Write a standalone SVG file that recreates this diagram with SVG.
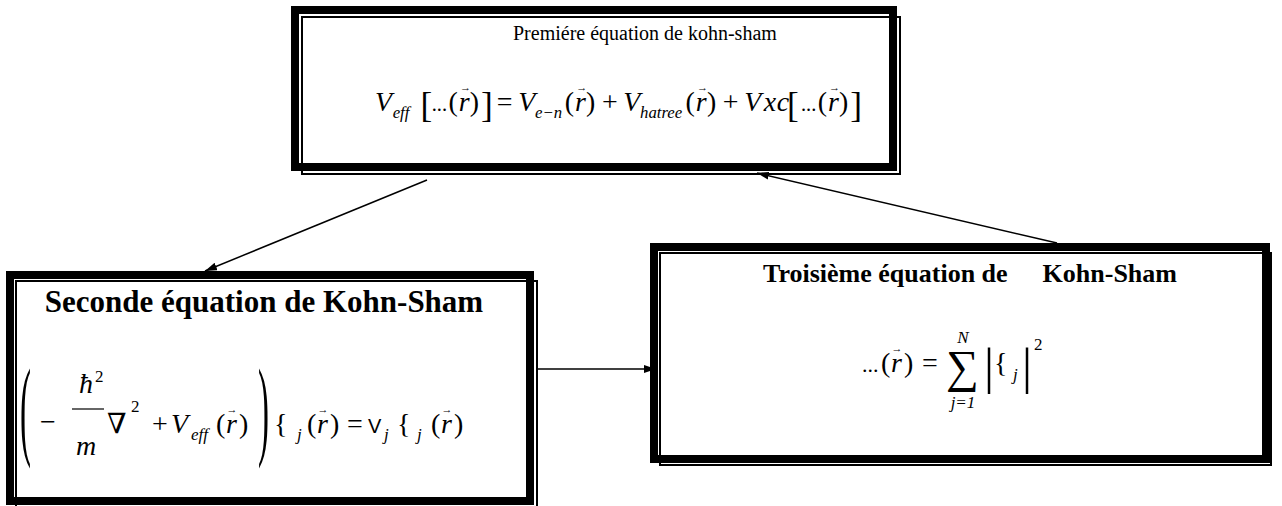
<svg xmlns="http://www.w3.org/2000/svg" width="1282" height="506" viewBox="0 0 1282 506">
<style>
.thick{fill:none;stroke:#000;stroke-width:8}
.thin{fill:none;stroke:#000;stroke-width:2}
.t{font-family:'Liberation Serif','DejaVu Serif',serif;fill:#000}
.i{font-style:italic}
.b{font-weight:bold}
.m{font-size:28px}
.s{font-size:17px}
.v{font-size:11px}
.sans{font-family:'Liberation Sans','DejaVu Sans',sans-serif;fill:#000}
.conn{stroke:#000;stroke-width:1.5;fill:none}
</style>
<defs>
<marker id="ah" viewBox="0 0 12 8" refX="12" refY="4" markerWidth="12" markerHeight="8" markerUnits="userSpaceOnUse" orient="auto">
<path d="M0,0 L12,4 L0,8 Z" fill="#000"/>
</marker>
</defs>
<rect width="1282" height="506" fill="#fff"/>

<g id="connectors">
<line class="conn" x1="427" y1="180" x2="205" y2="271" marker-end="url(#ah)"/>
<line class="conn" x1="1057" y1="243" x2="757" y2="173" marker-end="url(#ah)"/>
<line class="conn" x1="538" y1="369" x2="656" y2="369" marker-end="url(#ah)"/>
</g>

<g id="node-premiere">
<rect class="thick" x="295" y="10" width="598" height="157"/>
<rect class="thin" x="302" y="17" width="598" height="157"/>
<text class="t" x="513" y="40" font-size="20">Premiére équation de kohn-sham</text>
<g transform="translate(375,111) scale(0.93)">
<text class="t i" x="0" y="0" font-size="30">V</text>
<text class="t i" x="19" y="8" font-size="18">eff</text>
<text class="t" x="49" y="6" font-size="38">[</text>
<text class="t" x="61" y="0" font-size="22">...</text>
<text class="t" x="79" y="0" font-size="30">(</text>
<text class="t i" x="90" y="0" font-size="30">r</text>
<text class="t" x="97" y="-21" font-size="12" text-anchor="middle">→</text>
<text class="t" x="102" y="0" font-size="30">)</text>
<text class="t" x="114" y="6" font-size="38">]</text>
<text class="t" x="131" y="0" font-size="30">=</text>
<text class="t i" x="154" y="0" font-size="30">V</text>
<text class="t i" x="172" y="8" font-size="18">e−n</text>
<text class="t" x="204" y="0" font-size="30">(</text>
<text class="t i" x="215" y="0" font-size="30">r</text>
<text class="t" x="222" y="-21" font-size="12" text-anchor="middle">→</text>
<text class="t" x="227" y="0" font-size="30">)</text>
<text class="t" x="244" y="0" font-size="30">+</text>
<text class="t i" x="267" y="0" font-size="30">V</text>
<text class="t i" x="285" y="8" font-size="18">hatree</text>
<text class="t" x="334" y="0" font-size="30">(</text>
<text class="t i" x="345" y="0" font-size="30">r</text>
<text class="t" x="352" y="-21" font-size="12" text-anchor="middle">→</text>
<text class="t" x="357" y="0" font-size="30">)</text>
<text class="t" x="374" y="0" font-size="30">+</text>
<text class="t i" x="397" y="0" font-size="30">V</text>
<text class="t i" x="418" y="0" font-size="30">x</text>
<text class="t i" x="432" y="0" font-size="30">c</text>
<text class="t" x="443" y="6" font-size="38">[</text>
<text class="t" x="458" y="0" font-size="22">...</text>
<text class="t" x="476" y="0" font-size="30">(</text>
<text class="t i" x="487" y="0" font-size="30">r</text>
<text class="t" x="494" y="-21" font-size="12" text-anchor="middle">→</text>
<text class="t" x="499" y="0" font-size="30">)</text>
<text class="t" x="511" y="6" font-size="38">]</text>
</g>
</g>

<g id="node-seconde">
<rect class="thick" x="10" y="275" width="520" height="226"/>
<rect class="thin" x="16" y="281" width="521" height="226"/>
<text class="t b" x="264" y="312" font-size="31" text-anchor="middle">Seconde équation de Kohn-Sham</text>
<text class="t" transform="translate(20,445) scale(0.3,1)" font-size="110">(</text>
<text class="t m" x="40" y="431">−</text>
<text class="t i m" x="79" y="393">ħ</text>
<text class="t s" x="95" y="382">2</text>
<line x1="72" y1="409" x2="104" y2="409" stroke="#000" stroke-width="1.2"/>
<text class="t i m" x="76" y="455">m</text>
<text class="t m" x="107" y="433">∇</text>
<text class="t s" x="131" y="412">2</text>
<text class="t m" x="152" y="433">+</text>
<text class="t i m" x="171" y="433">V</text>
<text class="t i s" x="191" y="440">eff</text>
<text class="t m" x="216" y="433">(</text>
<text class="t i m" x="226" y="433">r</text>
<text class="t v" x="232" y="413" text-anchor="middle">→</text>
<text class="t m" x="239" y="433">)</text>
<text class="t" transform="translate(258,445) scale(0.3,1)" font-size="110">)</text>
<text class="t m" x="274" y="433">{</text>
<text class="t i s" x="297" y="440">j</text>
<text class="t m" x="307" y="433">(</text>
<text class="t i m" x="317" y="433">r</text>
<text class="t v" x="323" y="413" text-anchor="middle">→</text>
<text class="t m" x="330" y="433">)</text>
<text class="t m" x="347" y="433">=</text>
<text class="sans" x="368" y="433" font-size="20">V</text>
<text class="t i s" x="384" y="440">j</text>
<text class="t m" x="397" y="433">{</text>
<text class="t i s" x="417" y="440">j</text>
<text class="t m" x="431" y="433">(</text>
<text class="t i m" x="441" y="433">r</text>
<text class="t v" x="447" y="413" text-anchor="middle">→</text>
<text class="t m" x="454" y="433">)</text>
</g>

<g id="node-troisieme">
<rect class="thick" x="654" y="247" width="612" height="212"/>
<rect class="thin" x="660" y="253" width="611" height="212"/>
<text class="t b" x="763" y="282" font-size="26">Troisième équation de</text>
<text class="t b" x="1177" y="282" font-size="26" text-anchor="end">Kohn-Sham</text>
<text class="t" x="862" y="372" font-size="22">...</text>
<text class="t m" x="881" y="372">(</text>
<text class="t i m" x="891" y="372">r</text>
<text class="t v" x="897" y="352" text-anchor="middle">→</text>
<text class="t m" x="904" y="372">)</text>
<text class="t m" x="922" y="372">=</text>
<text class="t" x="946" y="382" font-size="46">∑</text>
<text class="t i s" x="963" y="343" text-anchor="middle">N</text>
<text class="t i s" x="963" y="408" text-anchor="middle">j=1</text>
<text class="t" x="984" y="383" font-size="50">|</text>
<text class="t m" x="994" y="372">{</text>
<text class="t i s" x="1013" y="380">j</text>
<text class="t" x="1022" y="383" font-size="50">|</text>
<text class="t s" x="1034" y="350">2</text>
</g>
</svg>
